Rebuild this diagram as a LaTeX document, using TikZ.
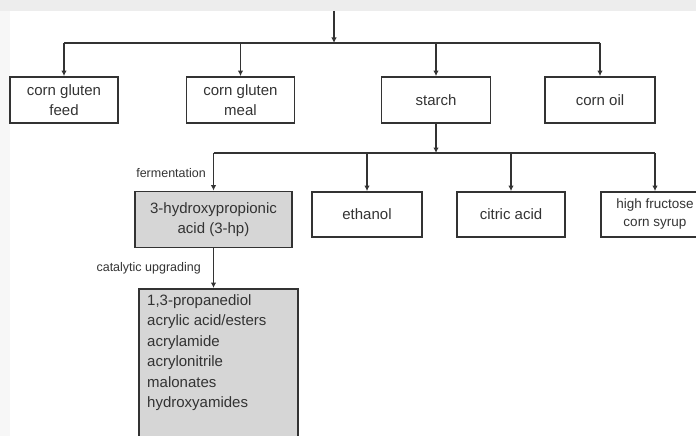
\documentclass[tikz,border=0pt]{standalone}
\usepackage{fontspec}
\setmainfont{Liberation Sans}
\usetikzlibrary{arrows.meta}
\definecolor{ink}{HTML}{333333}
\definecolor{boxfill}{HTML}{D6D6D6}
\tikzset{
  box/.style={draw=ink, line width=1.8pt, text=ink, align=center, inner sep=2pt,
    font=\fontsize{15}{20}\selectfont, minimum height=46pt},
  greybox/.style={box, fill=boxfill},
  conn/.style={draw=ink, line width=1.6pt},
  arr/.style={conn, -{Latex[length=5.5pt,width=5.5pt]}},
  lbl/.style={text=ink, font=\fontsize{12.5}{14}\selectfont, inner sep=0pt}
}
\begin{document}
\begin{tikzpicture}[x=1pt,y=-1pt]
\useasboundingbox (0,0) rectangle (696,436);
\clip (0,0) rectangle (696,436);
\fill[gray!14] (0,0) rectangle (696,11);
\fill[gray!6] (0,11) rectangle (10,436);
% row 1
\node[box, minimum width=108pt] (cgf) at (64,100) {corn gluten\\feed};
\node[box, minimum width=108pt] (cgm) at (240.5,100) {corn gluten\\meal};
\node[box, minimum width=109pt] (starch) at (436,100) {starch};
\node[box, minimum width=110pt] (oil) at (600,100) {corn oil};
% row 2
\node[greybox, minimum width=157pt, minimum height=56pt] (hp) at (213.5,219.5) {3-hydroxypropionic\\acid (3-hp)};
\node[box, minimum width=110pt, minimum height=45pt] (eth) at (367,214.5) {ethanol};
\node[box, minimum width=108pt, minimum height=45pt] (cit) at (511,214.5) {citric acid};
\node[box, minimum width=108pt, minimum height=45pt, font=\fontsize{13.5}{18}\selectfont] (hfcs) at (655,214.5) {high fructose\\corn syrup};
% final
\node[greybox, minimum width=159pt, minimum height=165pt, anchor=north] (prod) at (218.5,288) {};
\node[text=ink, font=\fontsize{15}{20.5}\selectfont, align=left, anchor=north west, inner sep=0pt] (prodtxt) at (147,294)
  {1,3-propanediol\\acrylic acid/esters\\acrylamide\\acrylonitrile\\malonates\\hydroxyamides};
% connectors row 1
\coordinate (t1) at (334,11);
\coordinate (b1) at (334,43);
\draw[arr] (t1) -- (b1);
\draw[conn] (cgf.north |- b1) -- (oil.north |- b1);
\foreach \n in {cgf,cgm,starch,oil} \draw[arr] (\n.north |- b1) -- (\n.north);
% connectors row 2
\coordinate (b2) at (436,153);
\draw[arr] (starch.south) -- (b2);
\draw[conn] (hp.north |- b2) -- (hfcs.north |- b2);
\foreach \n in {hp,eth,cit,hfcs} \draw[arr] (\n.north |- b2) -- (\n.north);
\draw[arr] (hp.south) -- (hp.south |- prod.north);
% labels
\node[lbl, anchor=east] (ferm) at (206,173) {fermentation};
\node[lbl, anchor=east] (cat) at (201,268) {catalytic upgrading};
\end{tikzpicture}
\end{document}
